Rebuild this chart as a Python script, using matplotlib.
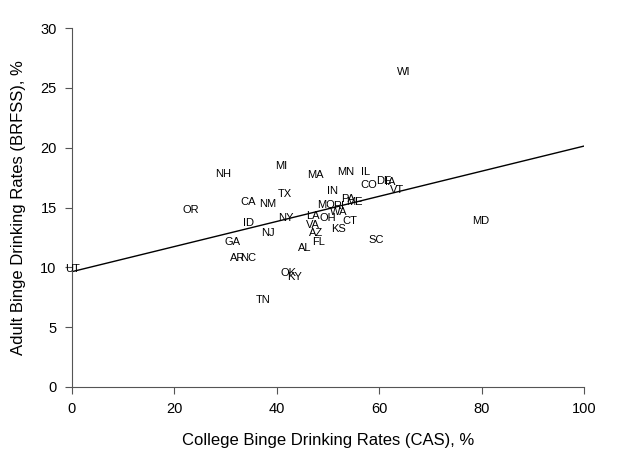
import numpy as np
import matplotlib
matplotlib.use("Agg")
import matplotlib.pyplot as plt

plt.rcParams['font.family'] = ['Liberation Sans', 'DejaVu Sans']

states = ["WI", "MI", "NH", "MA", "MN", "IL", "CO", "DE", "IA", "VT",
          "IN", "TX", "CA", "NM", "PA", "ME", "MO", "RI", "OR", "WA",
          "NY", "LA", "OH", "ID", "CT", "VA", "MD", "KS", "AZ", "NJ",
          "FL", "SC", "GA", "AL", "AR", "NC", "OK", "KY", "TN", "UT"]
college = [64.8, 40.8, 29.5, 47.5, 53.5, 57.4, 58.0, 60.9, 62.1, 63.5,
           50.8, 41.6, 34.4, 38.3, 53.9, 55.1, 49.6, 52.0, 23.2, 52.1,
           41.8, 47.1, 50.0, 34.4, 54.3, 47.1, 79.9, 52.0, 47.7, 38.3,
           48.2, 59.4, 31.4, 45.5, 32.4, 34.4, 42.2, 43.4, 37.3, 0.0]
adult = [26.3, 18.5, 17.8, 17.7, 18.0, 18.0, 16.9, 17.2, 17.1, 16.5,
         16.4, 16.1, 15.5, 15.3, 15.7, 15.5, 15.2, 15.1, 14.8, 14.6,
         14.1, 14.3, 14.1, 13.7, 13.9, 13.5, 13.9, 13.2, 12.9, 12.9,
         12.1, 12.3, 12.1, 11.6, 10.8, 10.8, 9.5, 9.2, 7.3, 9.9]

fig = plt.figure(figsize=(6.4, 4.66), dpi=100)
ax = fig.add_axes([72 / 640, 79 / 466, 512 / 640, 359 / 466])

for s, x, y in zip(states, college, adult):
    ax.text(x, y, s, fontsize=8, ha='center', va='center', color='black')

# linear trend
slope, intercept = np.polyfit(college, adult, 1)
xs = np.array([0, 100])
ax.plot(xs, intercept + slope * xs, color='black', lw=1)

ax.set_xlim(0, 100)
ax.set_ylim(0, 30)
ax.set_xticks(range(0, 101, 20))
ax.set_yticks(range(0, 31, 5))
ax.spines['top'].set_visible(False)
ax.spines['right'].set_visible(False)
for sp in ['left', 'bottom']:
    ax.spines[sp].set_color('#555555')
ax.tick_params(direction='out', length=5, color='#555555', labelsize=10.5, pad=6)
ax.set_xlabel("College Binge Drinking Rates (CAS), %", fontsize=12, labelpad=12)
ax.set_ylabel("Adult Binge Drinking Rates (BRFSS), %", fontsize=12, labelpad=10)

fig.savefig("out.png", dpi=100)
